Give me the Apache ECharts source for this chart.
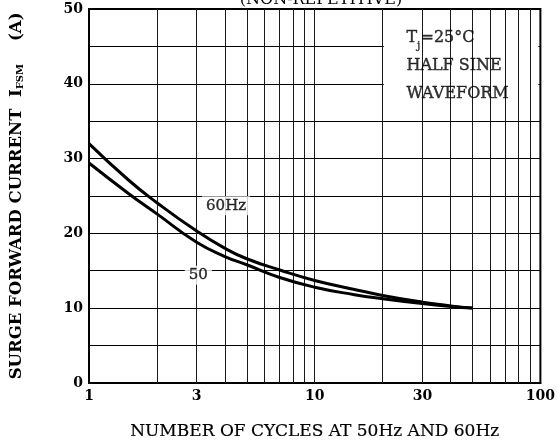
<!DOCTYPE html>
<html><head><meta charset="utf-8">
<script src="https://cdn.jsdelivr.net/npm/echarts@6/dist/echarts.min.js"></script>
<style>html,body{margin:0;padding:0;background:#fff}#c{width:558px;height:445px}</style>
</head><body><div id="c"></div>
<script>
var cycles = [1, 1.5, 2, 3, 4, 5, 7, 10, 15, 20, 30, 40, 50];
var surge60 = [32.0, 27.1, 24.1, 20.3, 18.0, 16.6, 15.1, 13.7, 12.5, 11.7, 10.8, 10.3, 10.0];
var surge50 = [29.4, 25.3, 22.6, 18.8, 16.9, 15.8, 14.1, 12.8, 11.8, 11.25, 10.6, 10.22, 10.0];
var xTickLabels = [1, 3, 10, 30, 100];
var xGridValues = [2, 3, 4, 5, 6, 7, 8, 9, 10, 20, 30, 40, 50, 60, 70, 80, 90];
var noteText = ['{t|T}{s|j}{t|=25°C}', '{t|HALF SINE}', '{t|WAVEFORM}'];
var noteAnchor = [25.5, 48.0];
var noteBox = [[20.25, 36.2], [97.9, 49.8]];
var curveLabels = [{name: '60Hz', x: 4.05, y: 23.7}, {name: '50', x: 3.05, y: 14.4}];

var serif = '"DejaVu Serif", serif';
var chart = echarts.init(document.getElementById('c'), null, {renderer: 'canvas'});
function pair(xs, ys) { return xs.map(function (x, i) { return [x, ys[i]]; }); }

chart.setOption({
  animation: false,
  title: {
    text: '(NON-REPETITIVE)', left: 316, textAlign: 'center', top: -13,
    textStyle: {fontFamily: serif, fontSize: 16, fontWeight: 'normal', color: '#000'}
  },
  grid: {left: 89, right: 15, top: 9, bottom: 62, show: true, borderColor: '#000', borderWidth: 2, backgroundColor: 'transparent'},
  xAxis: {
    type: 'log', logBase: 10, min: 1, max: 100,
    name: 'NUMBER OF CYCLES AT 50Hz AND 60Hz', nameLocation: 'middle', nameGap: 40,
    nameTextStyle: {fontFamily: serif, fontSize: 17, color: '#000', textBorderColor: '#000', textBorderWidth: 0.2},
    axisLine: {show: true, lineStyle: {color: '#000', width: 2}},
    axisTick: {show: false},
    splitLine: {show: false},
    axisLabel: {customValues: xTickLabels, fontFamily: serif, fontSize: 14, fontWeight: 'bold', color: '#000', margin: 6,
      formatter: function (v) { return String(Math.round(v)); }}
  },
  yAxis: {
    type: 'value', min: 0, max: 50, interval: 5,
    name: '{a|SURGE FORWARD CURRENT  I}{s|FSM}{a|    (A)}', nameLocation: 'middle', nameGap: 64,
    nameTextStyle: {rich: {
      a: {fontFamily: serif, fontSize: 16.5, fontWeight: 'bold', color: '#000'},
      s: {fontFamily: serif, fontSize: 10, fontWeight: 'bold', color: '#000', verticalAlign: 'bottom', padding: [7, 0, 0, 0]}
    }},
    axisLine: {show: true, lineStyle: {color: '#000', width: 2}},
    axisTick: {show: false},
    splitLine: {show: true, lineStyle: {color: '#000', width: 1}},
    axisLabel: {fontFamily: serif, fontSize: 14, fontWeight: 'bold', color: '#000', margin: 6,
      formatter: function (v) { return v % 10 === 0 ? String(v) : ''; }}
  },
  series: [
    {
      type: 'line', data: [], z: 1, silent: true,
      markLine: {symbol: 'none', silent: true, label: {show: false},
        lineStyle: {color: '#1a1a1a', width: 1, type: 'solid', opacity: 1},
        data: xGridValues.map(function (v) { return {xAxis: v}; })}
    },
    {
      type: 'line', data: [], z: 3, silent: true,
      markArea: {silent: true, itemStyle: {color: '#fff', opacity: 1, borderWidth: 0},
        label: {show: false},
        data: [[{coord: noteBox[0]}, {coord: noteBox[1]}]]}
    },
    {
      type: 'scatter', z: 6, silent: true, symbolSize: 0,
      data: [noteAnchor],
      label: {show: true, position: 'inside', align: 'left', verticalAlign: 'top',
        formatter: noteText.join('\n'), lineHeight: 28,
        rich: {
          t: {fontFamily: serif, fontSize: 16, color: '#000', lineHeight: 28, textBorderColor: '#000', textBorderWidth: 0.4},
          s: {fontFamily: serif, fontSize: 11, color: '#000', verticalAlign: 'bottom', lineHeight: 28, padding: [8, 0, 0, 0], textBorderColor: '#000', textBorderWidth: 0.3}
        }}
    },
    {
      name: '60Hz', type: 'line', z: 5, smooth: 0.5, showSymbol: false, symbol: 'none',
      data: pair(cycles, surge60), lineStyle: {color: '#000', width: 3}
    },
    {
      name: '50Hz', type: 'line', z: 5, smooth: 0.5, showSymbol: false, symbol: 'none',
      data: pair(cycles, surge50), lineStyle: {color: '#000', width: 3}
    },
    {
      type: 'scatter', z: 6, silent: true, symbolSize: 0,
      data: curveLabels.map(function (d) { return {name: d.name, value: [d.x, d.y]}; }),
      label: {show: true, position: 'inside', formatter: '{b}', fontFamily: serif, fontSize: 15, color: '#000',
        textBorderColor: '#000', textBorderWidth: 0.4,
        backgroundColor: '#fff', padding: [2, 4]}
    }
  ]
});
</script></body></html>
